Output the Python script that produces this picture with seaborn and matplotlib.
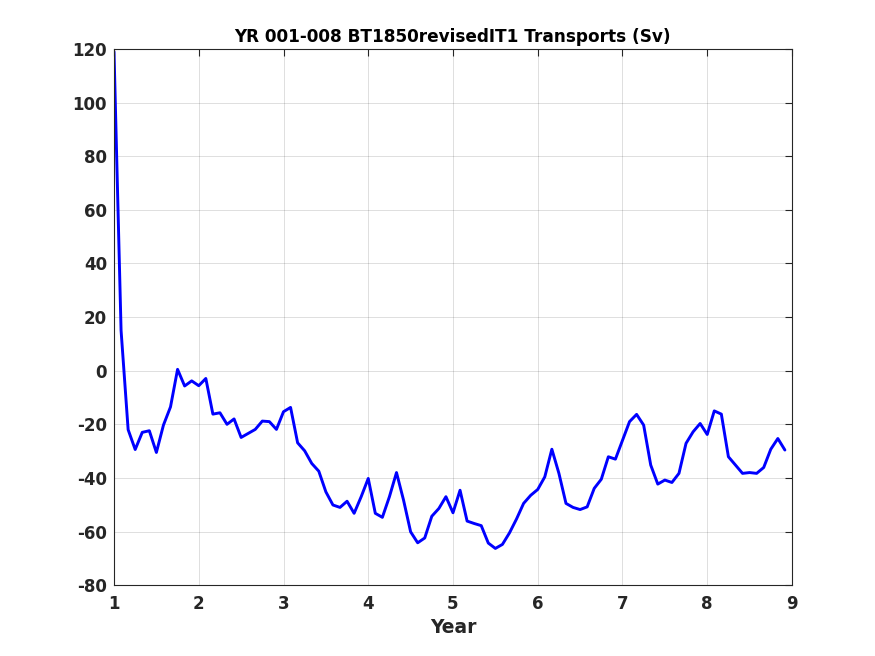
"""
Monthly transport time series, years 001-008, BT1850revisedIT1 run.
"""
import matplotlib
matplotlib.use('Agg')
import matplotlib.pyplot as plt
import seaborn as sns
import numpy as np
import pandas as pd

# monthly transports (Sv)
transport = [
    119, 15, -22, -29.4, -23, -22.4, -30.5, -20.3, -13.5, 0.5, -5.7, -3.8,
    -5.6, -2.9, -16.2, -15.7, -20, -18, -24.9, -23.4, -21.9, -18.8, -19, -21.9,
    -15.3, -13.7, -26.9, -29.9, -34.6, -37.5, -45.2, -50.1, -51, -48.7, -53.2, -47,
    -40.2, -53.2, -54.7, -47, -38, -48.3, -60.1, -64.2, -62.4, -54.3, -51.4, -47,
    -53, -44.6, -56.1, -57, -57.8, -64.3, -66.3, -64.8, -60.5, -55.3, -49.5, -46.5,
    -44.3, -39.6, -29.3, -38.3, -49.5, -51, -51.8, -50.8, -43.9, -40.5, -32.1, -33,
    -26, -19, -16.3, -20.3, -35.2, -42.3, -40.8, -41.7, -38.3, -27.1, -22.8, -19.7,
    -23.8, -15, -16.2, -32.1, -35.2, -38.3, -38, -38.3, -36.1, -29.3, -25.3, -29.6,
]
year = 1 + np.arange(len(transport)) / 12

x_ticks = [1, 2, 3, 4, 5, 6, 7, 8, 9]
y_ticks = [-80, -60, -40, -20, 0, 20, 40, 60, 80, 100, 120]

df = pd.DataFrame({'Year': year, 'Transport': transport})

sns.set_style('white')
plt.rcParams['font.family'] = ['DejaVu Sans']
plt.rcParams['font.weight'] = 'bold'
plt.rcParams['axes.unicode_minus'] = False

fig = plt.figure(figsize=(8.75, 6.56), dpi=100)
ax = fig.add_axes([0.1303, 0.108, 0.7748, 0.8173])

sns.lineplot(data=df, x='Year', y='Transport', color='#0000ff', linewidth=2.1, ax=ax)

ax.set_xlim(1, 9)
ax.set_ylim(-80, 120)
ax.set_xticks(x_ticks)
ax.set_yticks(y_ticks)
ax.grid(True, color='#000000', alpha=0.15, linewidth=0.6)
ax.tick_params(direction='in', length=5, width=0.8, top=True, right=True,
               labelsize=12, colors='#262626')
ax.tick_params(axis='x', pad=7)
ax.tick_params(axis='y', pad=5)
for lbl in ax.get_xticklabels() + ax.get_yticklabels():
    lbl.set_fontweight('bold')
for side in ax.spines.values():
    side.set_color('#262626')
    side.set_linewidth(0.8)

ax.set_xlabel('Year', fontsize=13.5, fontweight='bold', color='#262626', labelpad=4)
ax.set_ylabel('')
ax.set_title('YR 001-008 BT1850revisedIT1 Transports (Sv)', fontsize=12.2,
             fontweight='bold', color='black', pad=5)

fig.savefig('out.png', dpi=100, facecolor='white')
